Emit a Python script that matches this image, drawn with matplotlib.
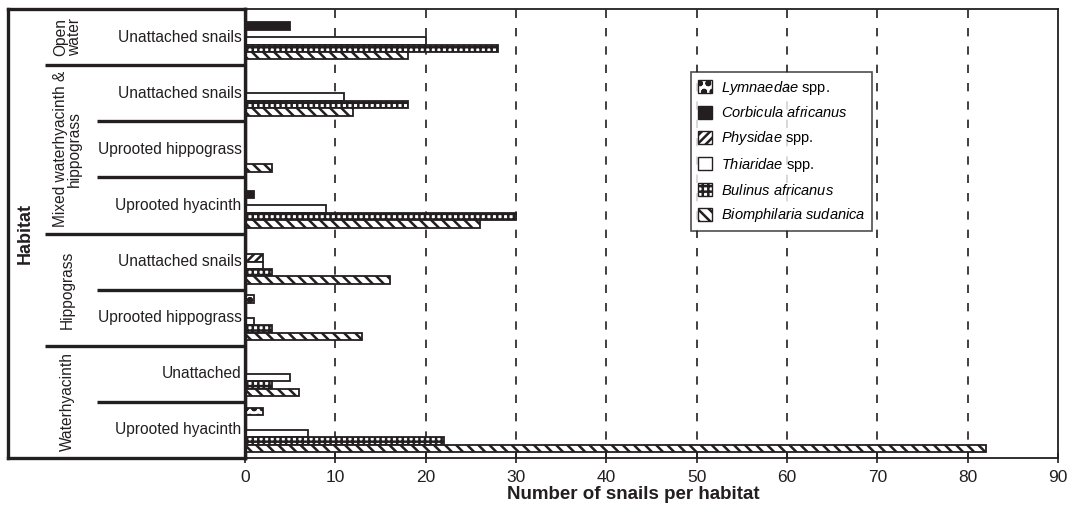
import matplotlib
matplotlib.use("Agg")
import matplotlib.pyplot as plt
from matplotlib.patches import Patch
import numpy as np

plt.rcParams['font.family'] = ['Liberation Sans', 'DejaVu Sans']
plt.rcParams['mathtext.fontset'] = 'custom'
plt.rcParams['mathtext.it'] = 'Liberation Sans:italic'
plt.rcParams['mathtext.rm'] = 'Liberation Sans'
plt.rcParams['hatch.linewidth'] = 1.8

# ---- data ----
subrows = ["Unattached snails", "Unattached snails", "Uprooted hippograss", "Uprooted hyacinth",
           "Unattached snails", "Uprooted hippograss", "Unattached", "Uprooted hyacinth"]
groups = ["Open\nwater", "Mixed waterhyacinth &\nhippograss", "Hippograss", "Waterhyacinth"]
group_spans = [(0, 0), (1, 3), (4, 5), (6, 7)]

series = ["Lymnaedae", "Corbicula africanus", "Physidae", "Thiaridae", "Bulinus africanus", "Biomphilaria sudanica"]
series_labels = [r"$\it{Lymnaedae}$ spp.", r"$\it{Corbicula\ africanus}$", r"$\it{Physidae}$ spp.",
                 r"$\it{Thiaridae}$ spp.", r"$\it{Bulinus\ africanus}$", r"$\it{Biomphilaria\ sudanica}$"]
lymnaedae   = [0, 0, 0, 0, 0, 1, 0, 2]
corbicula   = [5, 0, 0, 1, 0, 0, 0, 0]
physidae    = [0, 0, 0, 0, 2, 0, 0, 0]
thiaridae   = [20, 11, 0, 9, 2, 1, 5, 7]
bulinus     = [28, 18, 0, 30, 3, 3, 3, 22]
biomphilaria = [18, 12, 3, 26, 16, 13, 6, 82]
values = [lymnaedae, corbicula, physidae, thiaridae, bulinus, biomphilaria]

xticks = [0, 10, 20, 30, 40, 50, 60, 70, 80, 90]

# ---- styles ----
K = '#231f20'
styles = [
    dict(facecolor='white', hatch='oo'),
    dict(facecolor=K, hatch=None),
    dict(facecolor='white', hatch='////'),
    dict(facecolor='white', hatch=None),
    dict(facecolor='white', hatch='+++'),
    dict(facecolor='white', hatch='\\\\\\'),
]

W, H = 1069, 507
fig = plt.figure(figsize=(W / 100, H / 100), dpi=100)
x0, x1, ytop, ybot = 245, 1058, 9, 458
ax = fig.add_axes([x0 / W, 1 - ybot / H, (x1 - x0) / W, (ybot - ytop) / H])
axt = fig.add_axes([8 / W, 1 - ybot / H, (x0 - 8) / W, (ybot - ytop) / H])

n = len(subrows)
slot = 0.133
ypos = np.arange(n)
for j, (vals, st) in enumerate(zip(values, styles)):
    for i, v in enumerate(vals):
        if v <= 0:
            continue
        ax.barh(ypos[i] + (j - 2.5) * slot, v, height=slot, left=0,
                facecolor=st['facecolor'], hatch=st['hatch'], edgecolor=K, linewidth=1.3, zorder=3)

ax.set_xlim(0, 90)
ax.set_ylim(n - 0.5, -0.5)
ax.set_yticks([])
ax.set_xticks(xticks)
ax.set_xticklabels([str(t) for t in xticks], fontsize=12.5, color=K)
ax.tick_params(axis='x', direction='inout', length=7, width=1.2, color=K, pad=5)
for t in xticks[1:-1]:
    ax.axvline(t, color=K, linestyle=(0, (5, 6)), linewidth=1.2, zorder=1)
for s in ['top', 'right', 'bottom']:
    ax.spines[s].set_linewidth(1.3)
    ax.spines[s].set_color(K)
ax.spines['left'].set_linewidth(2.4)
ax.spines['left'].set_color(K)
ax.set_xlabel("Number of snails per habitat", fontsize=13.5, fontweight='bold', color=K)
ax.xaxis.set_label_coords((633 - x0) / (x1 - x0), -0.062)

handles = [Patch(facecolor=st['facecolor'], hatch=st['hatch'], edgecolor=K, linewidth=1.0) for st in styles]
leg = ax.legend(handles, series_labels, loc='upper left',
                bbox_to_anchor=((691 - x0) / (x1 - x0), 1 - (72 - ytop) / (ybot - ytop)),
                fontsize=10.5, frameon=True, fancybox=False, edgecolor=K,
                handlelength=1.0, handleheight=1.0, handletextpad=0.6, labelspacing=0.6,
                borderpad=0.45, borderaxespad=0)
leg.get_frame().set_linewidth(1.2)

# ---- left table ----
axt.set_xlim(0, 1)
axt.set_ylim(n - 0.5, -0.5)
axt.set_xticks([])
axt.set_yticks([])
for s in axt.spines.values():
    s.set_linewidth(2.4)
    s.set_color(K)
gx = (45 - 8) / (x0 - 8)
sx = (97 - 8) / (x0 - 8)
for a, b in group_spans[1:]:
    axt.plot([gx, 1], [a - 0.5, a - 0.5], color=K, linewidth=2.4, solid_capstyle='butt')
for i in range(1, n):
    if any(i == a for a, b in group_spans):
        continue
    axt.plot([sx, 1], [i - 0.5, i - 0.5], color=K, linewidth=2.4, solid_capstyle='butt')
for i, lab in enumerate(subrows):
    axt.text(0.985, i, lab, ha='right', va='center', fontsize=11.2, color=K)
gcx = (67.5 - 8) / (x0 - 8)
for g, (a, b) in zip(groups, group_spans):
    axt.text(gcx, (a + b) / 2, g, rotation=90, ha='center', va='center', fontsize=11.2,
             color=K, linespacing=0.95, multialignment='center')
axt.text((25 - 8) / (x0 - 8), (n - 1) / 2, "Habitat", rotation=90, ha='center', va='center',
         fontsize=13, fontweight='bold', color=K)

fig.savefig("out.png", dpi=100)
